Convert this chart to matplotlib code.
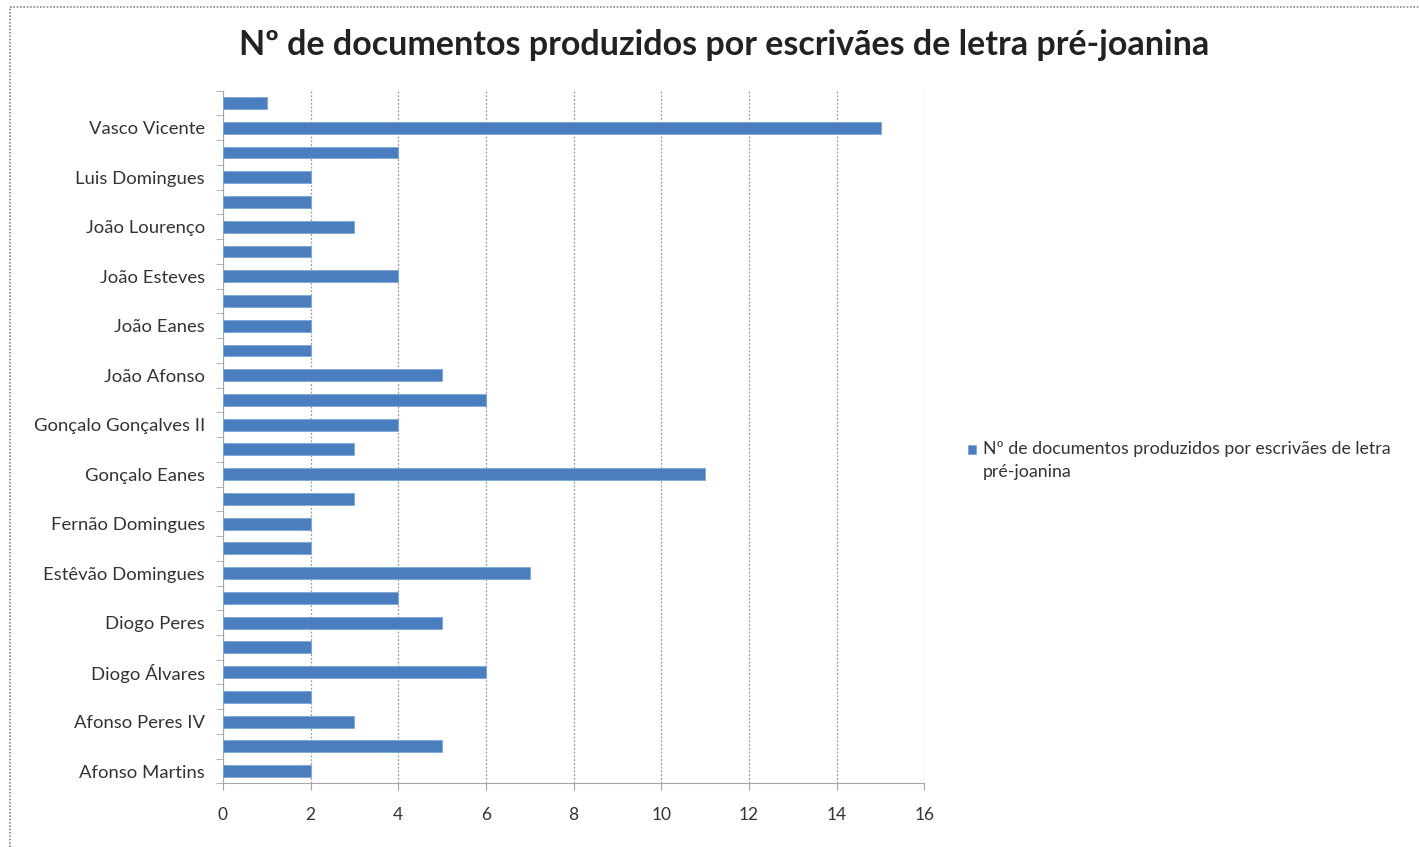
import numpy as np
import matplotlib
matplotlib.use('Agg')
import matplotlib.pyplot as plt
from matplotlib.lines import Line2D
from matplotlib.patches import Rectangle

# escrivães, de baixo para cima; só os de índice par levam rótulo no eixo
escrivaes = [
    "Afonso Martins", "", "Afonso Peres IV", "", "Diogo Álvares", "",
    "Diogo Peres", "", "Estêvão Domingues", "", "Fernão Domingues", "",
    "Gonçalo Eanes", "", "Gonçalo Gonçalves II", "", "João Afonso", "",
    "João Eanes", "", "João Esteves", "", "João Lourenço", "",
    "Luis Domingues", "", "Vasco Vicente", "",
]
documentos = [2, 5, 3, 2, 6, 2, 5, 4, 7, 2, 2, 3, 11, 3, 4, 6, 5, 2,
              2, 2, 4, 2, 3, 2, 2, 4, 15, 1]
x_ticks = [0, 2, 4, 6, 8, 10, 12, 14, 16]

titulo = "Nº de documentos produzidos por escrivães de letra pré-joanina"
legenda = "Nº de documentos produzidos por escrivães de letra\npré-joanina"

plt.rcParams['font.family'] = ['Lato', 'DejaVu Sans']
cor = "#4A7EBF"
borda = "#7FA6D6"
cinza = "#A6A6A6"
texto = "#333333"

fig = plt.figure(figsize=(14.2, 8.47), dpi=100)
ax = fig.add_axes([0.157, 0.075, 0.494, 0.818])

y = np.arange(len(documentos))
ax.barh(y, documentos, height=0.48, color=cor, edgecolor=borda,
        linewidth=0.6, zorder=3, label=legenda)

ax.set_xlim(0, 16)
ax.set_ylim(-0.5, len(documentos) - 0.5)
ax.set_xticks(x_ticks)
ax.set_xticklabels([str(t) for t in x_ticks], fontsize=12.5, color=texto)

ax.set_yticks(y)
ax.set_yticklabels(escrivaes, fontsize=13.3, color=texto)
ax.set_yticks(np.arange(len(documentos) + 1) - 0.5, minor=True)
ax.tick_params(axis="y", which="major", length=0, pad=13)
ax.tick_params(axis="y", which="minor", length=5, color=cinza, direction="out")
ax.tick_params(axis="x", length=5, color=cinza, direction="out", pad=12)

ax.grid(axis="x", color="#999999", linestyle=(0, (1.5, 1.5)), linewidth=0.9, zorder=0)
for lado in ["top", "right"]:
    ax.spines[lado].set_visible(False)
ax.spines["left"].set_color(cinza)
ax.spines["bottom"].set_color(cinza)
ax.spines["bottom"].set_linestyle((0, (2, 1)))

fig.text(0.510, 0.947, titulo, ha="center", va="center", fontsize=24.5,
         fontweight="bold", color="#222222")

# legenda à direita: quadrado alinhado com a primeira linha do texto
fig.add_artist(Rectangle((968 / 1420, 1 - 454 / 847), 8 / 1420, 9 / 847,
                         transform=fig.transFigure, facecolor=cor,
                         edgecolor=borda, linewidth=0.6))
fig.text(983 / 1420, 1 - 441 / 847, legenda, ha="left", va="top",
         fontsize=12.8, color=texto, linespacing=1.55)

# moldura pontilhada da área do gráfico
fig.add_artist(Line2D([0.007, 0.007], [0, 0.992], transform=fig.transFigure,
                      color="#888888", linestyle=(0, (1, 1)), linewidth=1.2))
fig.add_artist(Line2D([0.007, 1], [0.992, 0.992], transform=fig.transFigure,
                      color="#888888", linestyle=(0, (1, 1)), linewidth=1.2))

fig.savefig("out.png", dpi=100)
